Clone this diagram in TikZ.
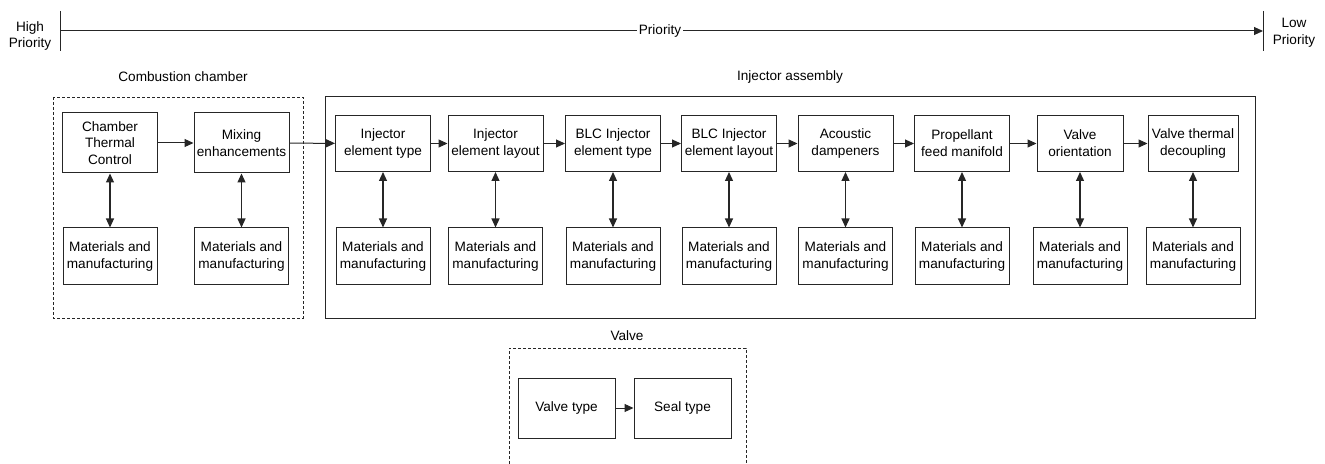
\documentclass[tikz,border=0pt]{standalone}
\usepackage{fontspec}
\setmainfont{Liberation Sans}
\usetikzlibrary{arrows.meta,positioning}
\definecolor{inkline}{gray}{0.15}
\tikzset{
  block/.style={draw=inkline, line width=0.5pt, minimum width=47.5pt, minimum height=28pt, inner sep=1pt, align=center, font=\fontsize{6.8}{8.4}\selectfont},
  matbox/.style={block, minimum width=47pt, minimum height=28.5pt},
  flow/.style={-{Triangle[length=4.5pt,width=4pt]}, line width=0.5pt, draw=inkline},
  link/.style={{Triangle[length=4.5pt,width=4pt]}-{Triangle[length=4.5pt,width=4pt]}, line width=0.6pt, draw=inkline},
  groupbox/.style={draw=inkline, line width=0.5pt},
  dashbox/.style={groupbox, dash pattern=on 1.5pt off 1pt, line width=0.45pt},
  caption/.style={font=\fontsize{6.8}{8.4}\selectfont, align=center, inner sep=1pt},
}
\begin{document}
\begin{tikzpicture}[x=0.5pt,y=-0.5pt]
\useasboundingbox (0,0) rectangle (1325,464);

% priority scale
\coordinate (hi top) at (60,11);
\coordinate (hi bot) at (60,51);
\coordinate (lo top) at (1263,11);
\coordinate (lo bot) at (1263,51);
\coordinate (hi) at (60,31);
\coordinate (lo) at (1263,31);
\draw[groupbox] (hi top) -- (hi bot);
\draw[groupbox] (lo top) -- (lo bot);
\draw[flow] (hi) -- (lo);
\node[caption, fill=white] (prio) at (660,31) {Priority};
\node[caption] (high) at (30,36) {High\\Priority};
\node[caption] (low) at (1294,33) {Low\\Priority};

% combustion chamber
\node[caption] (cc label) at (183,77) {Combustion chamber};
\draw[dashbox] (53,97) rectangle (303,318);
\node[block, minimum height=30pt] (thermal) at (110,143) {Chamber\\Thermal\\Control};
\node[block, minimum height=30pt] (mixing) at (241.5,143) {Mixing\\enhancements};
\node[matbox] (mat thermal) at (110,256.5) {Materials and\\manufacturing};
\node[matbox] (mat mixing) at (241.5,256.5) {Materials and\\manufacturing};

% injector assembly
\node[caption] (inj label) at (790,77) {Injector assembly};
\draw[groupbox] (325,97) rectangle (1255,318);
\node[block] (elemtype) at (383,143.5) {Injector\\element type};
\node[block] (elemlayout) at (495.5,143.5) {Injector\\element layout};
\node[block] (blctype) at (613,143.5) {BLC Injector\\element type};
\node[block] (blclayout) at (729,143.5) {BLC Injector\\element layout};
\node[block] (acoustic) at (845.5,143.5) {Acoustic\\dampeners};
\node[block] (manifold) at (962,143.5) {Propellant\\feed manifold};
\node[block, minimum width=43pt] (orient) at (1080,143.5) {Valve\\orientation};
\node[block, minimum width=45pt] (decouple) at (1193,143.5) {Valve thermal\\decoupling};

\foreach \n/\x in {elemtype/383,elemlayout/495.5,blctype/613,blclayout/729,acoustic/845.5,manifold/962,orient/1080,decouple/1193}
  \node[matbox] (mat \n) at (\x,256.5) {Materials and\\manufacturing};

% valve
\node[caption] (valve label) at (627,336) {Valve};
\draw[dashbox] (509,464) -- (509,348) -- (746,348) -- (746,464);
\node[block, minimum width=48.5pt, minimum height=30pt] (valvetype) at (566.5,408) {Valve type};
\node[block, minimum width=48.5pt, minimum height=30pt] (sealtype) at (682.5,408) {Seal type};

% sequence
\draw[flow] (thermal) -- (mixing);
\draw[flow] (mixing) -- (elemtype);
\draw[flow] (elemtype) -- (elemlayout);
\draw[flow] (elemlayout) -- (blctype);
\draw[flow] (blctype) -- (blclayout);
\draw[flow] (blclayout) -- (acoustic);
\draw[flow] (acoustic) -- (manifold);
\draw[flow] (manifold) -- (orient);
\draw[flow] (orient) -- (decouple);
\draw[flow] (valvetype) -- (sealtype);

% materials links
\foreach \n in {thermal,mixing,elemtype,elemlayout,blctype,blclayout,acoustic,manifold,orient,decouple}
  \draw[link] (\n) -- (mat \n);
\end{tikzpicture}
\end{document}
